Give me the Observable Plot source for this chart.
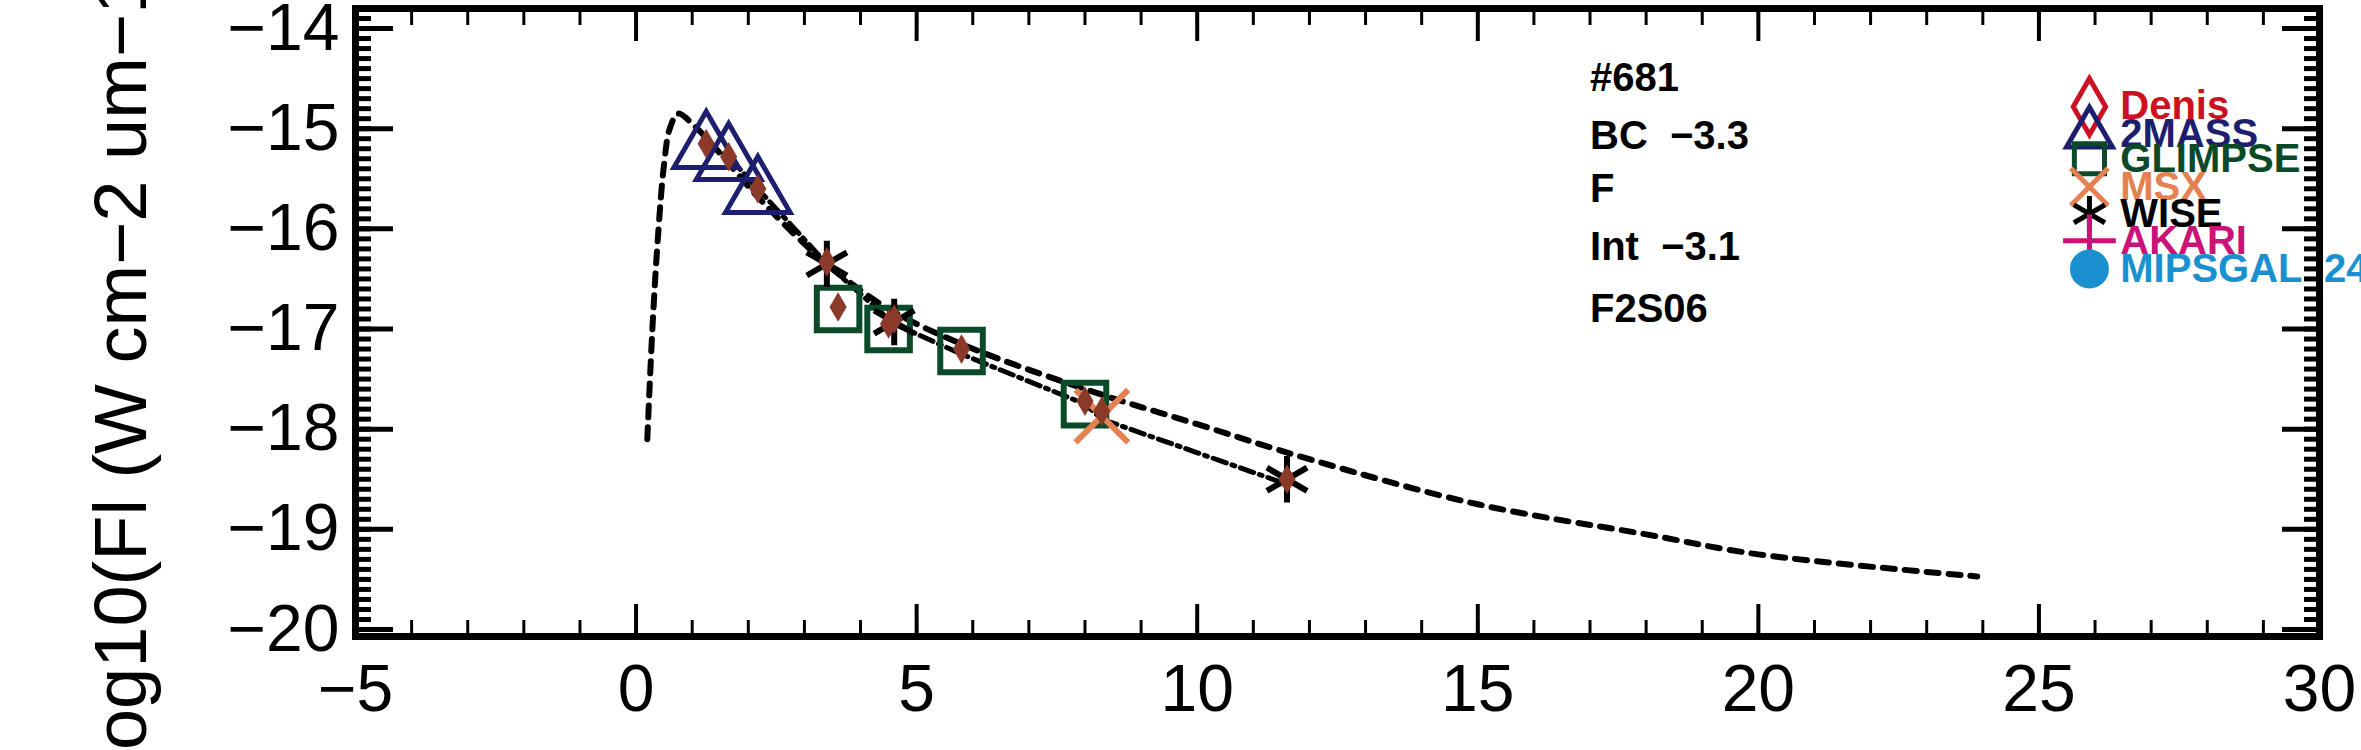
<!DOCTYPE html>
<html><head><meta charset="utf-8">
<script src="https://cdn.jsdelivr.net/npm/d3@7"></script>
<script src="https://cdn.jsdelivr.net/npm/@observablehq/plot@0.6"></script>
<style>body{margin:0;background:#fff}</style>
</head><body><div id="chart"></div>
<script>
// Model curve (dotted) and data-point fit (dash-dot)
const modelX = [0.2, 0.3, 0.4, 0.5, 0.6, 0.75, 1.0, 1.5, 2.2, 3.0, 3.5, 4.5, 5.8, 8.0, 10, 12, 15, 18, 20, 23.9];
const modelY = [-18.1, -16.9, -16.0, -15.35, -15.0, -14.85, -14.95, -15.25, -15.7, -16.15, -16.4, -16.8, -17.15, -17.6, -17.95, -18.3, -18.75, -19.05, -19.25, -19.47];
const fitX = [1.25, 1.65, 2.17, 3.4, 4.6, 5.8, 8.0, 8.3, 11.6];
const fitY = [-15.15, -15.28, -15.6, -16.35, -16.95, -17.25, -17.75, -17.9, -18.55];

// Photometry by survey
const twomassX = [1.25, 1.65, 2.17];
const twomassY = [-15.2, -15.32, -15.65];
const glimpseX = [3.6, 4.5, 5.8, 8.0];
const glimpseY = [-16.8, -17.0, -17.22, -17.75];
const msxX = [8.3];
const msxY = [-17.87];
const wiseX = [3.4, 4.6, 11.6];
const wiseY = [-16.35, -16.93, -18.5];
const obsX = [1.25, 1.65, 2.17, 3.4, 3.6, 4.5, 4.6, 5.8, 8.0, 8.3, 11.6];
const obsY = [-15.15, -15.28, -15.6, -16.33, -16.78, -16.95, -16.9, -17.2, -17.72, -17.82, -18.5];

// annotations and legend
const notes = ["#681", "BC  −3.3", "F", "Int  −3.1", "F2S06"];
const noteY = [-14.5, -15.07, -15.6, -16.18, -16.8];
const legendNames = ["Denis", "2MASS", "GLIMPSE", "MSX", "WISE", "AKARI", "MIPSGAL  24"];
const legendSymbols = ["diamond", "triangle", "square", "times", "asterisk", "plus", "circle"];
const legendColors = ["#cc1122", "#1e1e6e", "#0a4a28", "#e58050", "#000000", "#cc1177", "#1a90d0"];
const legendY = [-14.78, -15.05, -15.3, -15.58, -15.85, -16.12, -16.4];

const xMajor = [-5, 0, 5, 10, 15, 20, 25, 30];
const xMinor = d3.range(-5, 30.01, 1);
const yMajor = [-20, -19, -18, -17, -16, -15, -14];
const yMinor = d3.range(-20, -13.79, 0.1);

const zip = (xs, ys) => xs.map((x, i) => ({x, y: ys[i]}));
const legend = legendNames.map((n, i) => ({n, s: legendSymbols[i], c: legendColors[i], y: legendY[i]}));
const font = "Liberation Sans Narrow, Liberation Sans, sans-serif";
const minus = d => String(d).replace("-", "−");

const chart = Plot.plot({
  width: 2361, height: 750,
  marginLeft: 355, marginRight: 42, marginTop: 8, marginBottom: 114,
  style: {fontFamily: font, fontSize: "60px", color: "#000", background: "#fff", overflow: "hidden"},
  x: {domain: [-5, 30], label: null},
  y: {domain: [-20.07, -13.8], label: null},
  marks: [
    Plot.axisX(xMinor, {tickSize: -16, tickFormat: () => "", strokeWidth: 3, label: null}),
    Plot.axisX(xMajor, {tickSize: -32, tickPadding: 60, tickFormat: minus, strokeWidth: 4, fontSize: 66, label: null}),
    Plot.axisX(xMinor, {anchor: "top", tickSize: -16, tickFormat: () => "", strokeWidth: 3, label: null}),
    Plot.axisX(xMajor, {anchor: "top", tickSize: -32, tickFormat: () => "", strokeWidth: 4, label: null}),
    Plot.axisY(yMinor, {tickSize: -16, tickFormat: () => "", strokeWidth: 5, label: null}),
    Plot.axisY(yMajor, {tickSize: -38, tickPadding: 54, tickFormat: minus, strokeWidth: 5, fontSize: 66, label: null}),
    Plot.axisY(yMinor, {anchor: "right", tickSize: -16, tickFormat: () => "", strokeWidth: 5, label: null}),
    Plot.axisY(yMajor, {anchor: "right", tickSize: -38, tickFormat: () => "", strokeWidth: 5, label: null}),
    Plot.frame({stroke: "#000", strokeWidth: 7}),
    Plot.text(["log10(Fl (W cm−2 um−1))"], {frameAnchor: "bottom-left", dx: -210, dy: 130, rotate: -90, textAnchor: "start", fontSize: 74}),
    Plot.line(zip(modelX, modelY), {x: "x", y: "y", stroke: "#000", strokeWidth: 6, strokeDasharray: "12,10", curve: "catmull-rom"}),
    Plot.line(zip(fitX, fitY), {x: "x", y: "y", stroke: "#000", strokeWidth: 5, strokeDasharray: "14,6,3,6"}),
    Plot.dot(zip(twomassX, twomassY), {x: "x", y: "y", symbol: "triangle", r: 24, stroke: "#1e1e6e", strokeWidth: 5, fill: "none"}),
    Plot.dot(zip(glimpseX, glimpseY), {x: "x", y: "y", symbol: "square", r: 24, stroke: "#0a4a28", strokeWidth: 6, fill: "none"}),
    Plot.dot(zip(msxX, msxY), {x: "x", y: "y", symbol: "times", r: 24, stroke: "#e58050", strokeWidth: 6}),
    Plot.dot(zip(wiseX, wiseY), {x: "x", y: "y", symbol: "asterisk", r: 22, stroke: "#000", strokeWidth: 6}),
    Plot.dot(zip(obsX, obsY), {x: "x", y: "y", symbol: "diamond", r: 9, fill: "#8b3a2a", stroke: "none"}),
    Plot.text(notes.map((t, i) => ({t, y: noteY[i]})), {x: 17.0, y: "y", text: "t", textAnchor: "start", fontSize: 40, fontWeight: "bold"}),
    Plot.dot(legend, {x: 25.9, y: "y", symbol: "s", stroke: "c", fill: d => d.s === "circle" ? d.c : "none", r: 17, strokeWidth: 5}),
    Plot.text(legend, {x: 26.45, y: "y", text: "n", fill: "c", textAnchor: "start", fontSize: 40, fontWeight: "bold"})
  ]
});
document.getElementById("chart").append(chart);
</script>
</body></html>
